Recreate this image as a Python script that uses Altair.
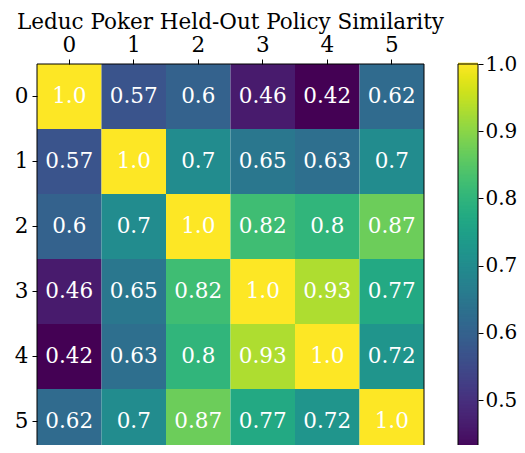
import altair as alt
import pandas as pd

title = "Leduc Poker Held-Out Policy Similarity"
labels = [0, 1, 2, 3, 4, 5]
row0 = [1.0, 0.57, 0.6, 0.46, 0.42, 0.62]
row1 = [0.57, 1.0, 0.7, 0.65, 0.63, 0.7]
row2 = [0.6, 0.7, 1.0, 0.82, 0.8, 0.87]
row3 = [0.46, 0.65, 0.82, 1.0, 0.93, 0.77]
row4 = [0.42, 0.63, 0.8, 0.93, 1.0, 0.72]
row5 = [0.62, 0.7, 0.87, 0.77, 0.72, 1.0]
rows = [row0, row1, row2, row3, row4, row5]
cbar_ticks = [0.5, 0.6, 0.7, 0.8, 0.9, 1.0]
vmin, vmax = 0.42, 1.0

records = []
for i, r in enumerate(rows):
    for j, v in enumerate(r):
        records.append({"row": labels[i], "col": labels[j], "value": v, "label": str(v)})
df = pd.DataFrame(records)

FONT = "DejaVu Serif"
FS = 21.5
W, H = 387, 390          # full plot area (bottom part runs past the page edge)
VIEW_H = 381             # visible part of the plot area
CB_X, CB_W = 421, 20

cscale = alt.Scale(scheme="viridis", domain=[vmin, vmax], clamp=True)

base = alt.Chart(df).encode(
    x=alt.X("col:O", title=None, scale=alt.Scale(paddingInner=0, paddingOuter=0),
            axis=alt.Axis(orient="top", labelAngle=0, tickSize=5, labelPadding=3,
                          labelFont=FONT, labelFontSize=FS, labelColor="black",
                          tickColor="black", domain=False)),
    y=alt.Y("row:O", title=None,
            scale=alt.Scale(paddingInner=0, paddingOuter=0, range=[0, H]),
            axis=alt.Axis(tickSize=5, labelPadding=4, labelFont=FONT, labelFontSize=FS,
                          labelColor="black", tickColor="black", domain=False)),
)
heat = base.mark_rect().encode(color=alt.Color("value:Q", scale=cscale, legend=None))
text = base.mark_text(font=FONT, fontSize=FS, color="white").encode(text="label:N")
heatmap = alt.layer(heat, text)

step = 0.002
cbar = alt.Chart(alt.sequence(vmin, vmax + step, step, as_="v")).transform_calculate(
    v2=f"min(datum.v + {2 * step}, {vmax})"
).mark_rect().encode(
    x=alt.value(CB_X), x2=alt.value(CB_X + CB_W),
    y=alt.Y("v:Q", title=None,
            scale=alt.Scale(domain=[vmin, vmax], nice=False, zero=False, range=[H, 0]),
            axis=alt.Axis(orient="right", values=cbar_ticks, format=".1f", tickSize=5,
                          offset=CB_X + CB_W - W, labelPadding=2, labelFont=FONT,
                          labelFontSize=20, labelColor="black", tickColor="black",
                          domain=False, grid=False)),
    y2="v2:Q",
    color=alt.Color("v:Q", scale=cscale, legend=None),
)
frames = alt.Chart(pd.DataFrame({"x0": [0, CB_X], "x1": [W, CB_X + CB_W]})).mark_rect(
    fillOpacity=0, stroke="black", strokeWidth=1
).encode(
    x=alt.X("x0:Q", scale=None), x2="x1:Q", y=alt.value(0), y2=alt.value(H)
)

chart = alt.layer(heatmap, cbar, frames).resolve_scale(y="independent").properties(
    width=W, height=VIEW_H,
    title=alt.TitleParams(title, font=FONT, fontSize=FS, fontWeight="normal",
                          color="black", anchor="middle", offset=1),
    autosize=alt.AutoSizeParams(type="none"),
    padding={"left": 29, "top": 56, "right": 93, "bottom": 0},
).configure_view(stroke=None)

chart.save("out.html", embed_options={"renderer": "svg", "actions": False})
